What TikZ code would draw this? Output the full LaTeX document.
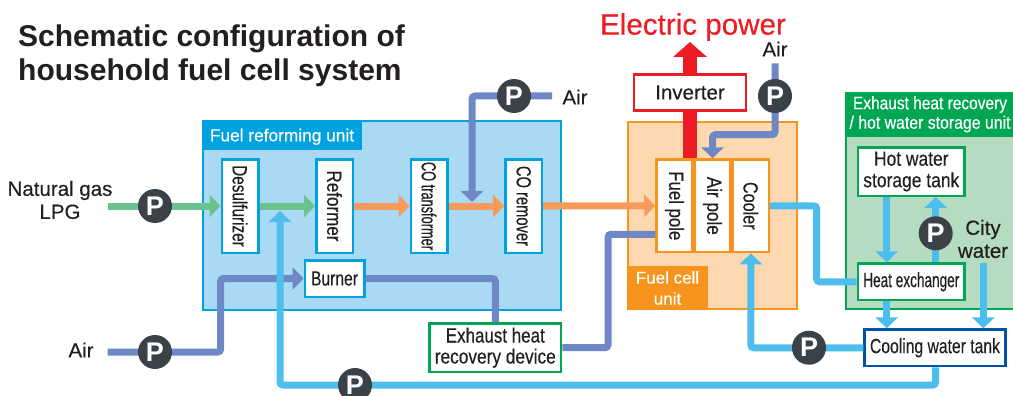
\documentclass[tikz,border=0pt]{standalone}
\usepackage{fontspec}
\usepackage{graphicx}
\setmainfont{Liberation Sans}
\newfontfamily\medf[FakeBold=0.35]{Liberation Sans}
\usetikzlibrary{arrows.meta,calc}
\pgfdeclarelayer{front}
\pgfsetlayers{main,front}
\definecolor{cGreen}{HTML}{6CC28F}
\definecolor{cOrange}{HTML}{F79B5D}
\definecolor{cAir}{HTML}{6E87C5}
\definecolor{cCyan}{HTML}{4DBDEE}
\definecolor{cHead}{HTML}{00A3E0}
\definecolor{cLight}{HTML}{A9D9F3}
\definecolor{cFc}{HTML}{FDD8B0}
\definecolor{cFo}{HTML}{F7941D}
\definecolor{cGr}{HTML}{00A651}
\definecolor{cLg}{HTML}{B5DCC0}
\definecolor{cRed}{HTML}{ED1C24}
\definecolor{cPump}{HTML}{3A4248}
\definecolor{cNavy}{HTML}{0054A6}
\definecolor{cText}{HTML}{231F20}
\newcommand\fitw[3]{\resizebox{#1pt}{\height}{\medf\fontsize{#2}{#2}\selectfont #3}}
\newcommand\vfit[3]{\rotatebox{-90}{\fitw{#1}{#2}{#3}}}
\tikzset{
  x=1pt,y=-1pt,
  flow/.style={line width=7pt,rounded corners=3pt,line cap=butt},
  tipflow/.style={flow,-{Triangle[length=11pt,width=22pt]}},
  gasline/.style={color=cGreen},
  refline/.style={color=cOrange},
  airline/.style={color=cAir},
  waterline/.style={color=cCyan},
  unitbox/.style={draw,fill=white,line width=2.5pt,inner sep=0pt,align=center,text=cText},
  panel/.style={draw,line width=2pt,inner sep=0pt},
  head/.style={inner sep=0pt,text=white,align=center},
  pump/.style={circle,fill=cPump,minimum size=34pt,inner sep=0pt,text=white,font=\fontsize{27}{27}\selectfont\bfseries},
  lbl/.style={inner sep=0pt,text=cText,align=center,font=\medf\fontsize{20.5}{23}\selectfont},
}
\begin{document}
\begin{tikzpicture}
\path[use as bounding box] (0,0) rectangle (1013,396);
\clip (0,0) rectangle (1013,396);

% Title
\node[inner sep=0pt,anchor=west,align=left,text=cText,font=\fontsize{30}{34}\selectfont\bfseries] (title) at (18,56) {Schematic configuration of\\household fuel cell system};
\node[inner sep=0pt,text=cRed,font=\medf\fontsize{29.6}{30}\selectfont] (epw) at (693,27) {Electric power};

% Panels
\node[panel,draw=cHead,fill=cLight,minimum width=358pt,minimum height=189pt] (fr) at (382,215.5) {};
\node[head,fill=cHead,minimum width=160pt,minimum height=30pt,text depth=0pt] (frh) at (282,135) {\medf\fontsize{17.3}{20}\selectfont Fuel reforming unit};
\node[panel,draw=cFo,fill=cFc,minimum width=169pt,minimum height=187.3pt] (fc) at (712.5,215.3) {};
\node[head,fill=cFo,minimum width=81pt,minimum height=44pt,font=\medf\fontsize{17}{21}\selectfont] (fch) at (667.5,288) {Fuel cell\\unit};
\node[panel,draw=cGr,fill=cLg,minimum width=169pt,minimum height=216pt] (eu) at (930,201) {};
\node[head,fill=cGr,minimum width=171pt,minimum height=44.7pt,font=\fontsize{17}{19.5}\selectfont] (euh) at (930,114.3) {\fitw{154}{18}{Exhaust heat recovery}\\\fitw{161}{18}{/ hot water storage unit}};

% Unit boxes
\node[unitbox,draw=cHead,minimum width=36.5pt,minimum height=93.5pt] (des) at (240,206) {\vfit{81.5}{20.5}{Desulfurizer}};
\node[unitbox,draw=cHead,minimum width=36.5pt,minimum height=93.5pt] (ref) at (334.5,206) {\vfit{71}{20.5}{Reformer}};
\node[unitbox,draw=cHead,minimum width=36.5pt,minimum height=93.5pt] (cot) at (429,206) {\vfit{88}{20.5}{CO transformer}};
\node[unitbox,draw=cHead,minimum width=36.5pt,minimum height=93.5pt] (crm) at (523.7,206) {\vfit{80}{20.5}{CO remover}};
\node[unitbox,draw=cHead,minimum width=59.5pt,minimum height=36.5pt] (bur) at (334.5,278.5) {\fitw{47}{20.5}{Burner}};
\node[unitbox,draw=cFo,minimum width=36pt,minimum height=92.5pt] (fuel) at (674.5,205.8) {\vfit{69}{20.5}{Fuel pole}};
\node[unitbox,draw=cFo,minimum width=36pt,minimum height=92.5pt] (airp) at (712.5,205.8) {\vfit{58}{20.5}{Air pole}};
\node[unitbox,draw=cFo,minimum width=36pt,minimum height=92.5pt] (cool) at (750.8,205.8) {\vfit{47.5}{20.5}{Cooler}};
\node[unitbox,draw=cGr,minimum width=106.8pt,minimum height=48.5pt,font=\fontsize{20.5}{21.5}\selectfont] (hot) at (911.3,171.5) {\fitw{74.5}{20.5}{Hot water}\\\fitw{96}{20.5}{storage tank}};
\node[unitbox,draw=cGr,minimum width=106.8pt,minimum height=36.5pt] (hx) at (911.3,281.8) {\fitw{96}{20.5}{Heat exchanger}};
\node[unitbox,draw=cNavy,minimum width=140.9pt,minimum height=36.5pt] (tank) at (935,347.8) {\fitw{130}{20.5}{Cooling water tank}};
\node[unitbox,draw=cGr,minimum width=131.5pt,minimum height=48.8pt,font=\fontsize{20.5}{21}\selectfont] (exh) at (495.3,347.7) {\fitw{99}{20.5}{Exhaust heat}\\\fitw{121}{20.5}{recovery device}};
\node[unitbox,draw=cRed,minimum width=112.1pt,minimum height=35.9pt] (inv) at (690,92.5) {\medf\fontsize{20.5}{22}\selectfont Inverter};

% Text labels
\node[lbl] (lng) at (60,200) {Natural gas\\LPG};
\node[lbl] (lal) at (81,350) {Air};
\node[lbl] (lat) at (575,97) {Air};
\node[lbl] (lar) at (775,49) {Air};
\node[lbl] (lcw) at (983,239) {City\\water};

% Pumps
\begin{pgfonlayer}{front}
\node[pump] (pNG) at (155,206) {P};
\node[pump] (pAL) at (155,352) {P};
\node[pump] (pAT) at (514,96) {P};
\node[pump] (pAR) at (775,96) {P};
\node[pump] (pCW) at (935.7,233.3) {P};
\node[pump] (pTC) at (809,347.7) {P};
\node[pump] (pRE) at (355,385) {P};
\end{pgfonlayer}

% Free ends and routing points
\coordinate (ngS) at (107.5,206);
\coordinate (alS) at (107.5,352);
\coordinate (atS) at (552,96);
\coordinate (arS) at (775,63.3);
\coordinate (cwS) at (983.3,262.7);
\coordinate (hxL) at (886.7,0);
\coordinate (elT) at (690,42);
\coordinate (rtT) at (280,211);
\coordinate (atT) at (472,202);
\coordinate (arM) at (712.5,134.7);
\coordinate (cwB) at (816.7,240);
\coordinate (ehM) at (608,234.3);
\coordinate (alM) at (220.7,300);

% Connectors
\draw[tipflow,gasline] (ngS) -- (des.west);
\draw[tipflow,gasline] (des.east) -- (ref.west);
\draw[tipflow,refline] (ref.east) -- (cot.west);
\draw[tipflow,refline] (cot.east) -- (crm.west);
\draw[tipflow,refline] (crm.east) -- (fuel.west);
\draw[tipflow,airline] (alS) -| (alM) |- (bur.west);
\draw[tipflow,airline] (atS) -| (atT);
\draw[tipflow,airline] (arS) |- (arM) -- (airp.north);
\draw[flow,airline] (bur.east) -| (exh.north);
\draw[flow,airline] (exh.east) -| (ehM) -- (fuel.west |- ehM);
\draw[flow,waterline] (cool.east) -| (cwB) |- (hx.west);
\draw[tipflow,waterline] (hot.south -| hxL) -- (hx.north -| hxL);
\draw[tipflow,waterline] (hx.north -| pCW) -- (hot.south -| pCW);
\draw[tipflow,waterline] (hx.south -| hxL) -- (tank.north -| hxL);
\draw[tipflow,waterline] (cwS) -- (tank.north -| cwS);
\draw[tipflow,waterline] (tank.west) -| (cool.south);
\draw[tipflow,waterline] (tank.south -| pCW) |- (pRE.center) -| (rtT);
\draw[line width=14.7pt,cRed] (inv.south) -- (inv.south |- fuel.north);
\draw[line width=14.7pt,cRed,-{Triangle[length=15pt,width=33pt]}] (inv.north) -- (elT);
\end{tikzpicture}
\end{document}
